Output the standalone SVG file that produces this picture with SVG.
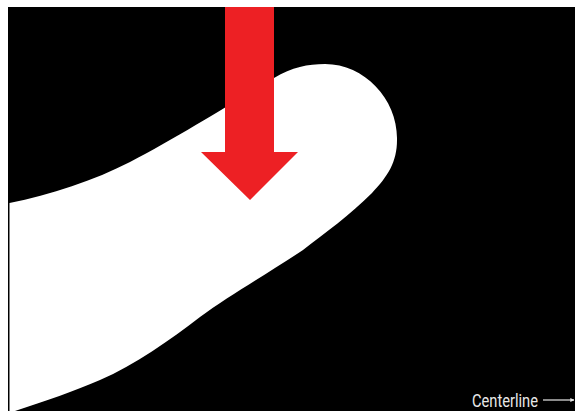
<svg xmlns="http://www.w3.org/2000/svg" width="575" height="411" viewBox="0 0 575 411">
  <style>
    .label { font-family: Roboto, "Liberation Sans", sans-serif; font-size: 18px; fill: #e8e8e8; }
    .conn { stroke: #e8e8e8; stroke-width: 1.2; fill: none; }
  </style>
  <defs>
    <marker id="ah" viewBox="0 0 6 6" refX="5.5" refY="3" markerWidth="4" markerHeight="4" orient="auto" markerUnits="userSpaceOnUse">
      <path d="M0,0 L6,3 L0,6 Z" fill="#e8e8e8"/>
    </marker>
  </defs>
  <rect x="0" y="0" width="575" height="411" fill="#ffffff"/>
  <g id="background">
    <rect x="8" y="7" width="567" height="404" fill="#000000"/>
  </g>
  <g id="finger">
    <path d="M 9.5 203 C 50 195, 95 180, 130 162 C 180 136, 240 98, 274 78 C 292 67, 308 64, 325 64 C 365 64, 398 100, 397 140 C 397 162, 388 176, 372 193 C 350 215, 325 233, 303 250 C 270 272, 230 295, 200 317 C 170 340, 135 365, 100 380 C 75 391, 45 401, 15 411 L 9.5 411 Z" fill="#ffffff"/>
  </g>
  <g id="force-arrow">
    <polygon points="225,7 274,7 274,152 298,152 250,200 201,152 225,152" fill="#ED2024"/>
  </g>
  <g id="centerline-label">
    <text class="label" x="472" y="407" textLength="66" lengthAdjust="spacingAndGlyphs">Centerline</text>
  </g>
  <g id="connectors">
    <line class="conn" x1="543" y1="400" x2="574" y2="400" marker-end="url(#ah)"/>
  </g>
</svg>
